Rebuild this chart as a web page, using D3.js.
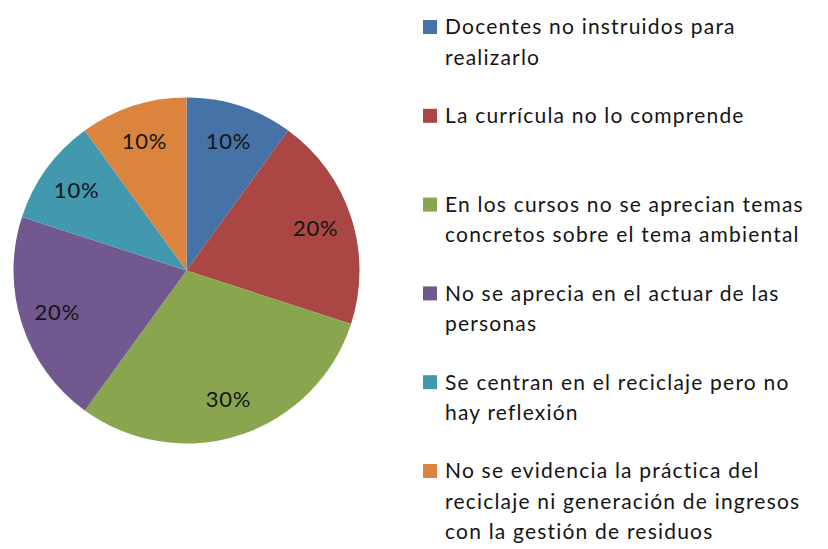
<!DOCTYPE html>
<html><head><meta charset="utf-8">
<script src="https://cdn.jsdelivr.net/npm/d3@7"></script>
<style>html,body{margin:0;padding:0;background:#fff;}svg{display:block;}</style>
</head><body>
<svg id="c" width="828" height="549"></svg>
<script>
const categories = [
  ["Docentes no instruidos para", "realizarlo"],
  ["La currícula no lo comprende"],
  ["En los cursos no se aprecian temas", "concretos sobre el tema ambiental"],
  ["No se aprecia en el actuar de las", "personas"],
  ["Se centran en el reciclaje pero no", "hay reflexión"],
  ["No se evidencia la práctica del", "reciclaje ni generación de ingresos", "con la gestión de residuos"]
];
const values = [10, 20, 30, 20, 10, 10];
const colors = ["#4572A7", "#AA4643", "#89A54E", "#71588F", "#4198AF", "#DB843D"];

const svg = d3.select("#c");
const font = "Lato, 'Open Sans', sans-serif";
const cx = 186.5, cy = 270.5, r = 173;
const total = d3.sum(values);
const pie = d3.pie().sort(null).value(d => d)(values);
const arc = d3.arc().innerRadius(0).outerRadius(r);
const labelArc = d3.arc().innerRadius(r * 0.785).outerRadius(r * 0.785);
const g = svg.append("g").attr("transform", `translate(${cx},${cy})`);
g.selectAll("path").data(pie).join("path")
  .attr("d", arc).attr("fill", (d, i) => colors[i]);
g.selectAll("text").data(pie).join("text")
  .attr("transform", d => `translate(${labelArc.centroid(d)})`)
  .attr("text-anchor", "middle").attr("dy", "0.35em")
  .attr("font-family", font).attr("font-size", 22).attr("letter-spacing", 0.8)
  .attr("fill", "#151515")
  .text(d => Math.round(d.data / total * 100) + "%");

const lg = svg.append("g");
const y0 = 27, step = 88.8, lh = 30.5;
categories.forEach((lines, i) => {
  const y = y0 + i * step;
  lg.append("rect").attr("x", 423).attr("y", y - 7).attr("width", 14).attr("height", 14)
    .attr("fill", colors[i]);
  const t = lg.append("text").attr("font-family", font).attr("font-size", 21)
    .attr("letter-spacing", 1.2).attr("fill", "#151515");
  lines.forEach((s, j) => {
    t.append("tspan").attr("x", 445).attr("y", y + j * lh).attr("dy", "0.35em").text(s);
  });
});
</script>
</body></html>
